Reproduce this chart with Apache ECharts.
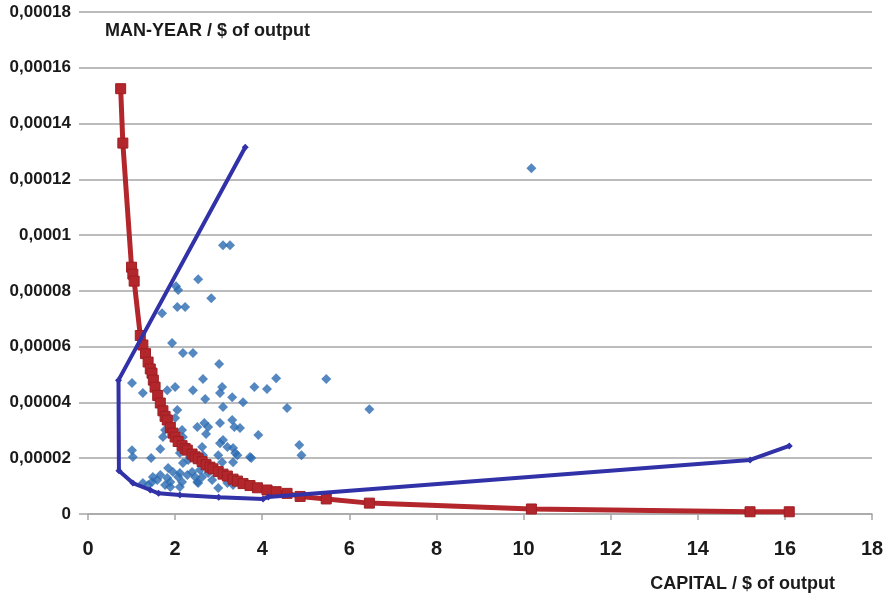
<!DOCTYPE html>
<html>
<head>
<meta charset="utf-8">
<title>Capital and labour per $ of output</title>
<script src="https://cdn.jsdelivr.net/npm/echarts@6/dist/echarts.min.js"></script>
<style>
  html, body { margin: 0; padding: 0; background: #ffffff; }
  #chart { width: 888px; height: 594px; }
</style>
</head>
<body>
<div id="chart"></div>
<script>
// Observed plants: capital and man-years per $ of output
const firmCapital = [
  10.18, 3.10, 3.26, 2.53, 2.02, 2.07, 2.83, 2.05, 2.23, 1.70,
  1.93, 2.18, 2.41, 3.01, 1.01, 1.26, 1.82, 2.00, 2.41, 2.64,
  2.69, 3.08, 3.03, 3.31, 3.56, 3.10, 3.82, 4.11, 4.32, 4.57,
  5.47, 6.46, 2.05, 2.00, 2.51, 2.67, 2.76, 2.71, 3.03, 3.31,
  3.36, 3.49, 3.91, 1.72, 1.77, 2.16, 2.18, 1.66, 1.01, 1.03,
  1.45, 2.62, 2.64, 3.10, 3.20, 3.33, 3.43, 2.99, 3.75, 2.18,
  2.30, 1.84, 1.95, 2.11, 1.66, 1.49, 1.59, 1.82, 1.89, 2.07,
  2.16, 2.28, 2.39, 2.51, 2.62, 2.76, 2.85, 2.99, 3.20, 3.33,
  1.38, 1.26, 1.47, 1.77, 2.11, 1.89, 2.46, 2.53, 2.57, 2.11,
  2.34, 3.03, 3.38, 3.72, 3.08, 3.33, 4.85, 4.90
];
const firmLabour = [
  12.40e-5, 9.64e-5, 9.64e-5, 8.42e-5, 8.17e-5, 8.03e-5, 7.74e-5, 7.42e-5, 7.42e-5, 7.20e-5,
  6.13e-5, 5.77e-5, 5.77e-5, 5.38e-5, 4.70e-5, 4.34e-5, 4.44e-5, 4.55e-5, 4.44e-5, 4.84e-5,
  4.12e-5, 4.55e-5, 4.34e-5, 4.19e-5, 4.01e-5, 3.84e-5, 4.55e-5, 4.48e-5, 4.87e-5, 3.80e-5,
  4.84e-5, 3.76e-5, 3.73e-5, 3.44e-5, 3.12e-5, 3.26e-5, 3.12e-5, 2.87e-5, 3.26e-5, 3.37e-5,
  3.12e-5, 3.08e-5, 2.83e-5, 2.76e-5, 3.01e-5, 3.01e-5, 2.76e-5, 2.33e-5, 2.29e-5, 2.04e-5,
  2.01e-5, 2.40e-5, 2.11e-5, 2.65e-5, 2.40e-5, 2.37e-5, 2.11e-5, 2.11e-5, 2.01e-5, 1.83e-5,
  1.94e-5, 1.65e-5, 1.51e-5, 1.47e-5, 1.40e-5, 1.33e-5, 1.22e-5, 1.29e-5, 1.15e-5, 1.33e-5,
  1.15e-5, 1.40e-5, 1.51e-5, 1.15e-5, 1.33e-5, 1.47e-5, 1.22e-5, 0.93e-5, 1.11e-5, 1.04e-5,
  1.04e-5, 1.11e-5, 1.15e-5, 1.04e-5, 0.97e-5, 0.97e-5, 1.33e-5, 1.11e-5, 1.58e-5, 2.19e-5,
  2.04e-5, 2.54e-5, 2.19e-5, 2.04e-5, 1.86e-5, 1.86e-5, 2.47e-5, 2.11e-5
];

// Fitted isoquant (red)
const curveCapital = [
  0.75, 0.80, 1.00, 1.03, 1.06, 1.20, 1.26, 1.32, 1.38, 1.43,
  1.47, 1.50, 1.54, 1.60, 1.66, 1.72, 1.77, 1.82, 1.89, 1.95,
  2.00, 2.07, 2.16, 2.23, 2.28, 2.39, 2.46, 2.53, 2.62, 2.71,
  2.80, 2.87, 2.99, 3.10, 3.20, 3.33, 3.43, 3.56, 3.72, 3.89,
  4.11, 4.32, 4.57, 4.87, 5.47, 6.46, 10.18, 15.20, 16.10
];
const curveLabour = [
  15.25e-5, 13.30e-5, 8.85e-5, 8.60e-5, 8.35e-5, 6.40e-5, 6.06e-5, 5.75e-5, 5.45e-5, 5.20e-5,
  5.05e-5, 4.80e-5, 4.55e-5, 4.25e-5, 3.98e-5, 3.70e-5, 3.50e-5, 3.37e-5, 3.10e-5, 2.90e-5,
  2.76e-5, 2.60e-5, 2.45e-5, 2.35e-5, 2.29e-5, 2.15e-5, 2.05e-5, 1.98e-5, 1.88e-5, 1.77e-5,
  1.68e-5, 1.62e-5, 1.52e-5, 1.43e-5, 1.36e-5, 1.25e-5, 1.18e-5, 1.09e-5, 1.02e-5, 0.94e-5,
  0.86e-5, 0.80e-5, 0.74e-5, 0.63e-5, 0.54e-5, 0.39e-5, 0.18e-5, 0.08e-5, 0.08e-5
];

// Efficiency frontier envelope (blue)
const frontierCapital = [3.61, 0.70, 0.71, 1.03, 1.43, 1.62, 2.11, 3.00, 4.02, 4.14, 15.20, 16.10];
const frontierLabour = [
  13.15e-5, 4.80e-5, 1.55e-5, 1.11e-5, 0.86e-5, 0.74e-5, 0.68e-5, 0.60e-5, 0.54e-5, 0.61e-5, 1.94e-5, 2.44e-5
];

// Axis tick labels (comma decimal separator)
const yTickLabels = ['0', '0,00002', '0,00004', '0,00006', '0,00008', '0,0001', '0,00012', '0,00014', '0,00016', '0,00018'];
const yStep = 0.00002;

const zip = (xs, ys) => xs.map((x, i) => [x, ys[i]]);

const sans = "'Liberation Sans', Arial, sans-serif";
const gridGray = '#a6a6a6';

const chart = echarts.init(document.getElementById('chart'), null, { renderer: 'canvas' });
chart.setOption({
  animation: false,
  backgroundColor: '#ffffff',
  grid: { left: 88, right: 16, top: 12, bottom: 80, containLabel: false },
  title: [
    {
      text: 'MAN-YEAR / $ of output',
      left: 100, top: 17,
      textStyle: { fontSize: 18, fontWeight: 'bold', color: '#1a1a1a', fontFamily: sans }
    },
    {
      text: 'CAPITAL / $ of output',
      right: 48, top: 570,
      textStyle: { fontSize: 18, fontWeight: 'bold', color: '#1a1a1a', fontFamily: sans }
    }
  ],
  xAxis: {
    type: 'value',
    min: 0, max: 18, interval: 2,
    axisLine: { show: true, onZero: false, lineStyle: { color: gridGray, width: 1.5 } },
    axisTick: { show: true, length: 6, lineStyle: { color: gridGray, width: 1.5 } },
    splitLine: { show: false },
    axisLabel: { fontSize: 20, fontWeight: 'bold', color: '#1a1a1a', fontFamily: sans, margin: 25 }
  },
  yAxis: {
    type: 'value',
    min: 0, max: 0.00018, interval: yStep,
    axisLine: { show: false },
    axisTick: { show: true, length: 9, lineStyle: { color: gridGray, width: 1.5 } },
    splitLine: { show: true, lineStyle: { color: gridGray, width: 1.5 } },
    axisLabel: {
      fontSize: 17, fontWeight: 'bold', color: '#1a1a1a', margin: 17,
      fontFamily: sans,
      formatter: v => yTickLabels[Math.round(v / yStep)]
    }
  },
  series: [
    {
      name: 'Plants',
      type: 'scatter',
      data: zip(firmCapital, firmLabour),
      symbol: 'diamond',
      symbolSize: 10,
      itemStyle: { color: '#2a6ab0' },
      z: 2
    },
    {
      name: 'Isoquant',
      type: 'line',
      data: zip(curveCapital, curveLabour),
      symbol: 'rect',
      symbolSize: 10,
      showAllSymbol: true,
      lineStyle: { color: '#b3262b', width: 5 },
      itemStyle: { color: '#b3262b', borderColor: '#9e1f24', borderWidth: 1 },
      z: 3
    },
    {
      name: 'Frontier',
      type: 'line',
      data: zip(frontierCapital, frontierLabour),
      symbol: 'diamond',
      symbolSize: 7,
      showAllSymbol: true,
      lineStyle: { color: '#3131a8', width: 4 },
      itemStyle: { color: '#3131a8' },
      z: 4
    }
  ]
});
</script>
</body>
</html>
